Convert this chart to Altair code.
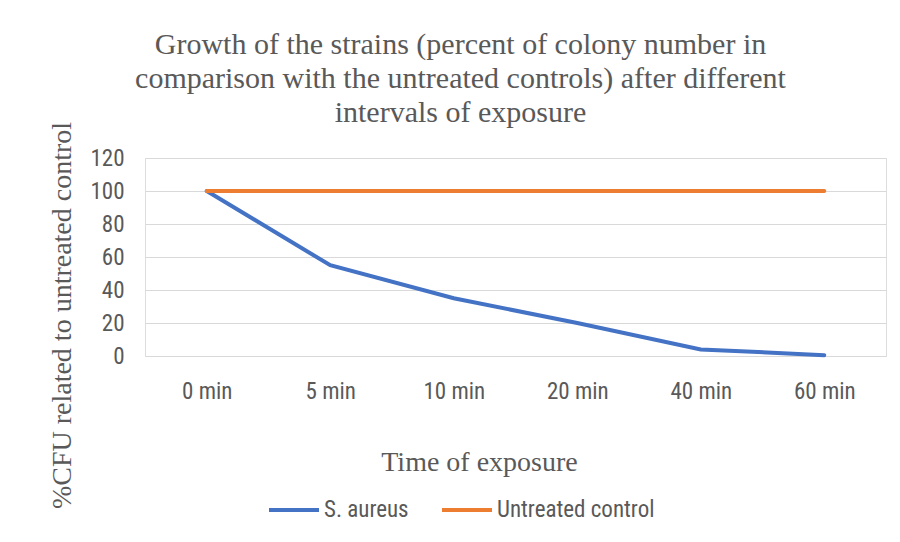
import altair as alt
import pandas as pd

categories = ["0 min", "5 min", "10 min", "20 min", "40 min", "60 min"]
s_aureus = [100, 55, 35, 20, 4, 0.5]
control = [100, 100, 100, 100, 100, 100]
series_names = ["S. aureus", "Untreated control"]
colors = ["#4472C4", "#ED7D31"]

rows = []
for c, v in zip(categories, s_aureus):
    rows.append({"time": c, "value": v, "series": series_names[0]})
for c, v in zip(categories, control):
    rows.append({"time": c, "value": v, "series": series_names[1]})
df = pd.DataFrame(rows)

SERIF = "Liberation Serif"
SANS = "Liberation Sans Narrow, Roboto Condensed, Liberation Sans"
GREY = "#595959"

chart = alt.Chart(df).mark_line(strokeWidth=4, strokeCap="round").encode(
    x=alt.X("time:N", sort=categories, scale=alt.Scale(paddingInner=0, paddingOuter=0),
            axis=alt.Axis(title="Time of exposure", labelAngle=0, ticks=False, domain=False,
                          labelPadding=24, labelFont=SANS, labelFontSize=23, labelColor=GREY,
                          labelFontWeight="normal",
                          titleFont=SERIF, titleFontSize=28, titleColor=GREY, titleFontWeight="normal",
                          titleX=334, titleY=106, titleAlign="center", titleBaseline="middle")),
    y=alt.Y("value:Q", scale=alt.Scale(domain=[0, 120]),
            axis=alt.Axis(title="%CFU related to untreated control", values=[0, 20, 40, 60, 80, 100, 120],
                          ticks=False, domain=False, labelPadding=21, labelFont=SANS, labelFontSize=23,
                          labelColor=GREY, gridColor="#d9d9d9", gridWidth=1,
                          titleFont=SERIF, titleFontSize=28, titleColor=GREY, titleFontWeight="normal",
                          titleX=-83, titleY=157, titleAngle=-90, titleAlign="center",
                          titleBaseline="middle")),
    color=alt.Color("series:N", scale=alt.Scale(domain=series_names, range=colors),
                    legend=alt.Legend(title=None, orient="none", direction="horizontal",
                                      legendX=122, legendY=325, symbolType="stroke",
                                      symbolSize=2500, symbolStrokeWidth=4, labelFont=SANS,
                                      labelFontSize=23, labelColor=GREY, columnPadding=25,
                                      labelOffset=3)),
).properties(
    width=741,
    height=198,
    title=alt.Title(
        ["Growth of the strains (percent of colony number in",
         "comparison with the untreated controls) after different",
         "intervals of exposure"],
        font=SERIF, fontSize=30, color=GREY, fontWeight="normal", lineHeight=34,
        anchor="middle", offset=-7, dx=-55),
    autosize=alt.AutoSizeParams(type="none"),
    padding={"left": 137, "top": 150, "right": 6, "bottom": 178},
).configure_view(stroke=None).configure(background="white")

chart.save("out.html", embed_options={"renderer": "svg", "actions": False})
